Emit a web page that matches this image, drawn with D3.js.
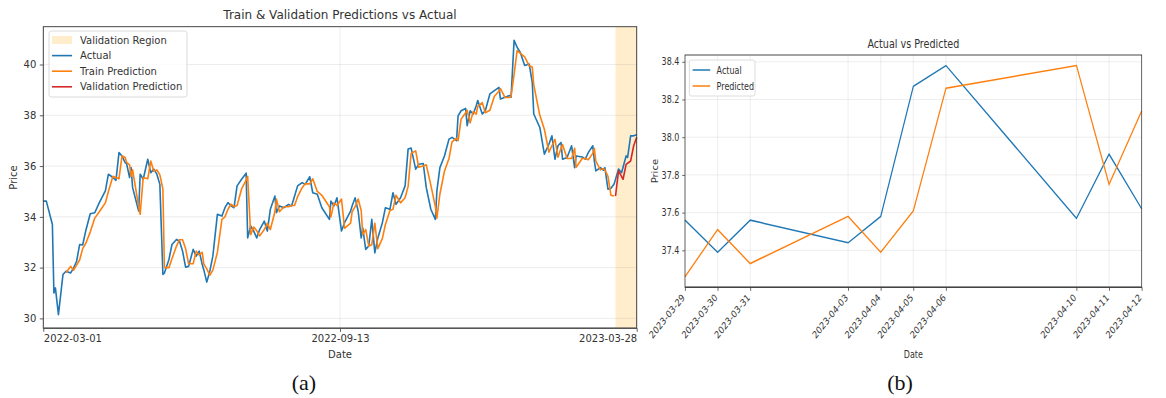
<!DOCTYPE html>
<html>
<head>
<meta charset="utf-8">
<script src="https://cdn.jsdelivr.net/npm/d3@7"></script>
<style>
  body { margin: 0; background: #fff; }
  svg { display: block; }
  text { font-family: "DejaVu Sans", sans-serif; fill: #333; }
</style>
</head>
<body>
<svg id="fig" width="1166" height="398"></svg>
<script>
// ---- Panel (a): full history ----
const dates = [
  "2022-03-01","2022-03-03","2022-03-07","2022-03-08","2022-03-09","2022-03-11","2022-03-14","2022-03-16","2022-03-19","2022-03-21",
  "2022-03-23","2022-03-25","2022-03-27","2022-03-29","2022-04-01","2022-04-04","2022-04-07","2022-04-11","2022-04-13","2022-04-16",
  "2022-04-18","2022-04-20","2022-04-22","2022-04-24","2022-04-25","2022-04-27","2022-04-28","2022-04-29","2022-05-03","2022-05-04",
  "2022-05-06","2022-05-09","2022-05-11","2022-05-13","2022-05-15","2022-05-17","2022-05-19","2022-05-20","2022-05-23","2022-05-25",
  "2022-05-28","2022-05-30","2022-06-01","2022-06-03","2022-06-05","2022-06-08","2022-06-10","2022-06-12","2022-06-14","2022-06-15",
  "2022-06-17","2022-06-19","2022-06-21","2022-06-24","2022-06-27","2022-06-29","2022-07-01","2022-07-03","2022-07-05","2022-07-07",
  "2022-07-10","2022-07-13","2022-07-14","2022-07-16","2022-07-18","2022-07-20","2022-07-22","2022-07-25","2022-07-27","2022-07-29",
  "2022-08-01","2022-08-02","2022-08-04","2022-08-07","2022-08-10","2022-08-12","2022-08-14","2022-08-16","2022-08-19","2022-08-21",
  "2022-08-24","2022-08-26","2022-08-29","2022-09-01","2022-09-06","2022-09-07","2022-09-09","2022-09-11","2022-09-14","2022-09-16",
  "2022-09-20","2022-09-21","2022-09-23","2022-09-25","2022-09-27","2022-09-28","2022-09-30","2022-10-02","2022-10-04","2022-10-06",
  "2022-10-08","2022-10-11","2022-10-13","2022-10-16","2022-10-18","2022-10-20","2022-10-23","2022-10-26","2022-10-28","2022-10-30",
  "2022-11-02","2022-11-04","2022-11-07","2022-11-09","2022-11-12","2022-11-15","2022-11-16","2022-11-18","2022-11-21","2022-11-24",
  "2022-11-26","2022-11-29","2022-11-30","2022-12-02","2022-12-05","2022-12-06","2022-12-08","2022-12-10","2022-12-12","2022-12-13",
  "2022-12-16","2022-12-18","2022-12-21","2022-12-24","2022-12-27","2022-12-28","2022-12-31","2023-01-03","2023-01-04","2023-01-06",
  "2023-01-08","2023-01-10","2023-01-13","2023-01-16","2023-01-18","2023-01-19","2023-01-23","2023-01-26","2023-01-29","2023-01-31",
  "2023-02-02","2023-02-04","2023-02-06","2023-02-07","2023-02-10","2023-02-13","2023-02-15","2023-02-16","2023-02-20","2023-02-22",
  "2023-02-24","2023-02-27","2023-02-28","2023-03-01","2023-03-04","2023-03-06","2023-03-07","2023-03-09","2023-03-11","2023-03-13",
  "2023-03-16","2023-03-18","2023-03-21","2023-03-22","2023-03-24","2023-03-26","2023-03-28"
];
const actual = [
  34.62,34.62,33.70,31.00,31.20,30.15,31.73,31.86,31.79,31.98,
  32.25,32.91,32.89,33.44,34.12,34.16,34.56,35.02,35.68,35.55,
  35.44,36.53,36.40,36.14,36.10,35.55,35.94,35.15,34.23,35.68,
  35.48,36.27,35.74,35.88,35.68,35.28,31.73,31.79,32.32,32.91,
  33.11,33.04,32.65,32.02,32.05,32.72,32.45,32.65,32.12,31.92,
  31.43,31.86,32.45,34.10,34.03,34.36,34.56,34.43,34.36,35.22,
  35.48,35.72,33.17,33.64,33.44,33.17,33.51,33.83,33.44,34.30,
  34.82,34.16,34.43,34.36,34.49,34.43,34.82,35.22,35.35,35.28,
  35.58,34.95,34.89,34.36,33.90,34.62,34.43,34.75,33.44,33.77,
  34.23,34.43,34.75,34.23,33.17,33.57,32.72,32.85,33.90,32.58,
  33.17,33.77,34.36,34.30,34.95,34.49,34.75,35.22,36.67,36.71,
  35.88,36.07,36.10,35.15,34.30,33.90,35.02,35.94,36.40,37.06,
  37.13,37.00,37.98,38.18,38.27,37.59,38.18,38.05,38.38,38.58,
  38.05,38.18,38.84,38.97,39.10,38.64,38.71,38.78,38.71,40.95,
  40.68,40.49,39.96,40.02,39.30,38.05,37.52,36.47,36.86,37.19,
  36.27,36.80,36.93,36.27,36.34,36.80,35.94,36.40,36.36,36.27,
  36.53,36.80,36.21,35.81,35.94,35.84,35.94,35.09,35.13,35.28,
  35.88,35.74,36.40,36.34,37.19,37.19,37.23
];
const trainPred = [
  null,null,null,null,null,null,null,31.80,32.05,31.90,
  32.10,32.30,32.75,32.95,33.40,33.95,34.20,34.55,35.00,35.60,
  35.55,35.50,36.40,36.35,36.15,36.05,35.60,35.85,34.40,34.10,
  35.55,35.50,36.20,35.80,35.85,35.65,35.10,32.00,32.00,32.35,
  32.85,33.10,33.10,32.75,32.15,32.15,32.65,32.50,32.60,32.15,
  31.95,31.70,31.90,32.60,33.90,34.00,34.30,34.50,34.40,34.45,
  35.10,35.45,35.60,33.30,33.60,33.45,33.25,33.50,33.75,33.50,
  34.20,34.70,34.20,34.40,34.40,34.45,34.45,34.80,35.15,35.30,
  35.30,35.50,35.00,34.85,34.40,34.00,34.55,34.45,34.70,33.55,
  33.75,34.20,34.40,34.70,34.25,33.30,33.50,32.85,32.90,33.75,
  32.75,33.15,33.70,34.25,34.30,34.85,34.55,34.75,35.20,36.50,
  36.60,35.95,36.00,36.05,35.25,34.40,33.95,34.90,35.80,36.30,
  36.95,37.10,37.00,37.85,38.10,38.20,37.70,38.15,38.05,38.35,
  38.50,38.10,38.20,38.75,38.95,39.05,38.70,38.70,38.75,39.60,
  40.55,40.45,40.30,39.95,39.90,39.20,38.00,37.45,36.55,36.80,
  37.05,36.35,36.70,36.85,36.30,36.30,36.70,35.95,36.30,36.30,
  36.25,36.50,36.70,36.20,35.85,35.90,35.85,35.60,34.85,34.82,
  null,null,null,null,null,null,null
];
const valDates = ["2023-03-14","2023-03-16","2023-03-19","2023-03-21","2023-03-24","2023-03-26","2023-03-28"];
const valPred  = [34.82, 35.81, 35.48, 36.07, 36.20, 36.80, 37.13];
const valRegion = ["2023-03-14","2023-03-28"];
const leftXTicks = ["2022-03-01","2022-09-13","2023-03-28"];
const leftYTicks = [30, 32, 34, 36, 38, 40];

// ---- Panel (b): test window ----
const testDates  = ["2023-03-29","2023-03-30","2023-03-31","2023-04-03","2023-04-04","2023-04-05","2023-04-06","2023-04-10","2023-04-11","2023-04-12"];
const testActual = [37.56, 37.39, 37.56, 37.44, 37.58, 38.27, 38.38, 37.57, 37.91, 37.62];
const testPred   = [37.26, 37.51, 37.33, 37.58, 37.39, 37.61, 38.26, 38.38, 37.75, 38.14];
const rightYTicks = [37.4, 37.6, 37.8, 38.0, 38.2, 38.4];

const C = { blue: "#1f77b4", orange: "#ff7f0e", red: "#d62728", shade: "#ffa500", grid: "#b0b0b0", spine: "#333" };
const parse = d3.utcParse("%Y-%m-%d");
const fmt = d3.utcFormat("%Y-%m-%d");
const svg = d3.select("#fig");

function padded(vals) {
  const [lo, hi] = d3.extent(vals);
  const p = (hi - lo) * 0.05;
  return [lo - p, hi + p];
}

// ================= Panel (a) =================
(function () {
  const L = { left: 43.3, right: 636.7, top: 26.7, bottom: 328.3 };
  const x = d3.scaleUtc().domain([parse(dates[0]), parse(dates[dates.length - 1])]).range([L.left, L.right]);
  const y = d3.scaleLinear().domain(padded(actual.concat(trainPred.filter(v => v != null), valPred))).range([L.bottom, L.top]);
  const g = svg.append("g");

  // validation shading
  g.append("rect")
    .attr("x", x(parse(valRegion[0]))).attr("y", L.top)
    .attr("width", x(parse(valRegion[1])) - x(parse(valRegion[0])))
    .attr("height", L.bottom - L.top)
    .attr("fill", C.shade).attr("fill-opacity", 0.2);

  // grid
  const grid = g.append("g").attr("stroke", C.grid).attr("stroke-opacity", 0.3).attr("stroke-width", 0.8);
  leftYTicks.forEach(v => grid.append("line").attr("x1", L.left).attr("x2", L.right).attr("y1", y(v)).attr("y2", y(v)));
  leftXTicks.forEach(d => grid.append("line").attr("y1", L.top).attr("y2", L.bottom).attr("x1", x(parse(d))).attr("x2", x(parse(d))));

  const line = d3.line().defined(d => d[1] != null).x(d => x(parse(d[0]))).y(d => y(d[1]));
  g.append("path").datum(dates.map((d, i) => [d, actual[i]]))
    .attr("d", line).attr("fill", "none").attr("stroke", C.blue).attr("stroke-width", 1.6).attr("stroke-linejoin", "round");
  g.append("path").datum(dates.map((d, i) => [d, trainPred[i]]))
    .attr("d", line).attr("fill", "none").attr("stroke", C.orange).attr("stroke-width", 1.6).attr("stroke-linejoin", "round");
  g.append("path").datum(valDates.map((d, i) => [d, valPred[i]]))
    .attr("d", line).attr("fill", "none").attr("stroke", C.red).attr("stroke-width", 1.6).attr("stroke-linejoin", "round");

  // axes
  const xa = g.append("g").attr("transform", `translate(0,${L.bottom})`)
    .call(d3.axisBottom(x).tickValues(leftXTicks.map(parse)).tickFormat(fmt).tickSize(3.5).tickPadding(3.5));
  const ya = g.append("g").attr("transform", `translate(${L.left},0)`)
    .call(d3.axisLeft(y).tickValues(leftYTicks).tickFormat(d3.format("d")).tickSize(3.5).tickPadding(3.5));
  [xa, ya].forEach(a => {
    a.select(".domain").remove();
    a.selectAll("line").attr("stroke", C.spine).attr("stroke-width", 0.8);
    a.selectAll("text").attr("font-size", 10).attr("font-family", "DejaVu Sans").attr("fill", "#333");
  });
  const xt = xa.selectAll(".tick text");
  xt.filter((d, i) => i === 0).attr("text-anchor", "start");
  xt.filter((d, i) => i === leftXTicks.length - 1).attr("text-anchor", "end");

  // frame
  g.append("rect").attr("x", L.left).attr("y", L.top).attr("width", L.right - L.left).attr("height", L.bottom - L.top)
    .attr("fill", "none").attr("stroke", C.spine).attr("stroke-width", 0.9);
  g.append("line").attr("x1", L.left).attr("x2", L.right).attr("y1", L.bottom).attr("y2", L.bottom)
    .attr("stroke", "#555").attr("stroke-width", 1.6);

  // labels
  g.append("text").attr("x", (L.left + L.right) / 2).attr("y", 19).attr("text-anchor", "middle").attr("font-size", 12)
    .text("Train & Validation Predictions vs Actual");
  g.append("text").attr("x", (L.left + L.right) / 2).attr("y", 358).attr("text-anchor", "middle").attr("font-size", 10).text("Date");
  g.append("text").attr("transform", `translate(17,${(L.top + L.bottom) / 2}) rotate(-90)`).attr("text-anchor", "middle")
    .attr("font-size", 10).text("Price");

  // legend
  const lg = g.append("g").attr("transform", "translate(49,31)");
  lg.append("rect").attr("width", 138).attr("height", 66).attr("rx", 2.5)
    .attr("fill", "#fff").attr("fill-opacity", 0.85).attr("stroke", "#d0d0d0").attr("stroke-width", 0.8);
  const items = [
    { label: "Validation Region", type: "patch", color: C.shade },
    { label: "Actual", type: "line", color: C.blue },
    { label: "Train Prediction", type: "line", color: C.orange },
    { label: "Validation Prediction", type: "line", color: C.red }
  ];
  items.forEach((it, i) => {
    const cy = 9 + i * 15.6;
    if (it.type === "patch") {
      lg.append("rect").attr("x", 3).attr("y", cy - 4).attr("width", 20).attr("height", 8)
        .attr("fill", it.color).attr("fill-opacity", 0.2);
    } else {
      lg.append("line").attr("x1", 3).attr("x2", 23).attr("y1", cy).attr("y2", cy)
        .attr("stroke", it.color).attr("stroke-width", 1.6);
    }
    lg.append("text").attr("x", 31).attr("y", cy + 3.6).attr("font-size", 10).text(it.label);
  });
})();

// ================= Panel (b) =================
(function () {
  const R = { left: 685, width: 456.7, top: 55, bottom: 287.3 };
  const sx = 0.8;                      // horizontally condensed panel
  const wN = R.width / sx;
  const g = svg.append("g").attr("transform", `translate(${R.left},0) scale(${sx},1)`);
  const td = testDates.map(parse);
  const x = d3.scaleUtc().domain(d3.extent(td)).range([0, wN]);
  const y = d3.scaleLinear().domain(padded(testActual.concat(testPred))).range([R.bottom, R.top]);

  const grid = g.append("g").attr("stroke", C.grid).attr("stroke-opacity", 0.3).attr("stroke-width", 0.8);
  rightYTicks.forEach(v => grid.append("line").attr("x1", 0).attr("x2", wN).attr("y1", y(v)).attr("y2", y(v)));
  td.forEach(d => grid.append("line").attr("y1", R.top).attr("y2", R.bottom).attr("x1", x(d)).attr("x2", x(d)));

  const line = d3.line().x(d => x(d[0])).y(d => y(d[1]));
  g.append("path").datum(td.map((d, i) => [d, testActual[i]])).attr("d", line)
    .attr("fill", "none").attr("stroke", C.blue).attr("stroke-width", 1.5);
  g.append("path").datum(td.map((d, i) => [d, testPred[i]])).attr("d", line)
    .attr("fill", "none").attr("stroke", C.orange).attr("stroke-width", 1.5);

  const ya = g.append("g").call(d3.axisLeft(y).tickValues(rightYTicks).tickFormat(d3.format(".1f")).tickSize(3.5).tickPadding(3.5));
  ya.select(".domain").remove();
  ya.selectAll("line").attr("stroke", C.spine).attr("stroke-width", 0.8);
  ya.selectAll("text").attr("font-size", 10).attr("font-family", "DejaVu Sans").attr("fill", "#333");

  const xa = g.append("g").attr("transform", `translate(0,${R.bottom})`)
    .call(d3.axisBottom(x).tickValues(td).tickFormat(fmt).tickSize(3.5));
  xa.select(".domain").remove();
  xa.selectAll("line").attr("stroke", C.spine).attr("stroke-width", 0.8);
  xa.selectAll(".tick text").attr("font-size", 10).attr("font-family", "DejaVu Sans").attr("fill", "#333")
    .attr("text-anchor", "end").attr("dy", null).attr("y", null)
    .attr("transform", "translate(0,11) rotate(-45)");

  g.append("rect").attr("x", 0).attr("y", R.top).attr("width", wN).attr("height", R.bottom - R.top)
    .attr("fill", "none").attr("stroke", C.spine).attr("stroke-width", 0.9);
  g.append("line").attr("x1", 0).attr("x2", wN).attr("y1", R.bottom).attr("y2", R.bottom)
    .attr("stroke", "#444").attr("stroke-width", 1.4);

  g.append("text").attr("x", wN / 2).attr("y", 48).attr("text-anchor", "middle").attr("font-size", 12).text("Actual vs Predicted");
  g.append("text").attr("x", wN / 2).attr("y", 358).attr("text-anchor", "middle").attr("font-size", 10).text("Date");
  g.append("text").attr("transform", `translate(-34,${(R.top + R.bottom) / 2}) rotate(-90)`).attr("text-anchor", "middle")
    .attr("font-size", 10).text("Price");

  const lg = g.append("g").attr("transform", `translate(5.5,${R.top + 5})`);
  lg.append("rect").attr("width", 82).attr("height", 36).attr("rx", 2.5)
    .attr("fill", "#fff").attr("fill-opacity", 0.85).attr("stroke", "#d0d0d0").attr("stroke-width", 0.8);
  [["Actual", C.blue], ["Predicted", C.orange]].forEach(([lab, col], i) => {
    const cy = 10 + i * 16;
    lg.append("line").attr("x1", 4).attr("x2", 26).attr("y1", cy).attr("y2", cy).attr("stroke", col).attr("stroke-width", 1.5);
    lg.append("text").attr("x", 34).attr("y", cy + 3.6).attr("font-size", 10).text(lab);
  });
})();

// panel captions
svg.append("text").attr("x", 304).attr("y", 390).attr("text-anchor", "middle")
  .attr("font-size", 22).style("font-family", "Liberation Serif, serif").style("fill", "#111").text("(a)");
svg.append("text").attr("x", 900).attr("y", 390).attr("text-anchor", "middle")
  .attr("font-size", 22).style("font-family", "Liberation Serif, serif").style("fill", "#111").text("(b)");
</script>
</body>
</html>
